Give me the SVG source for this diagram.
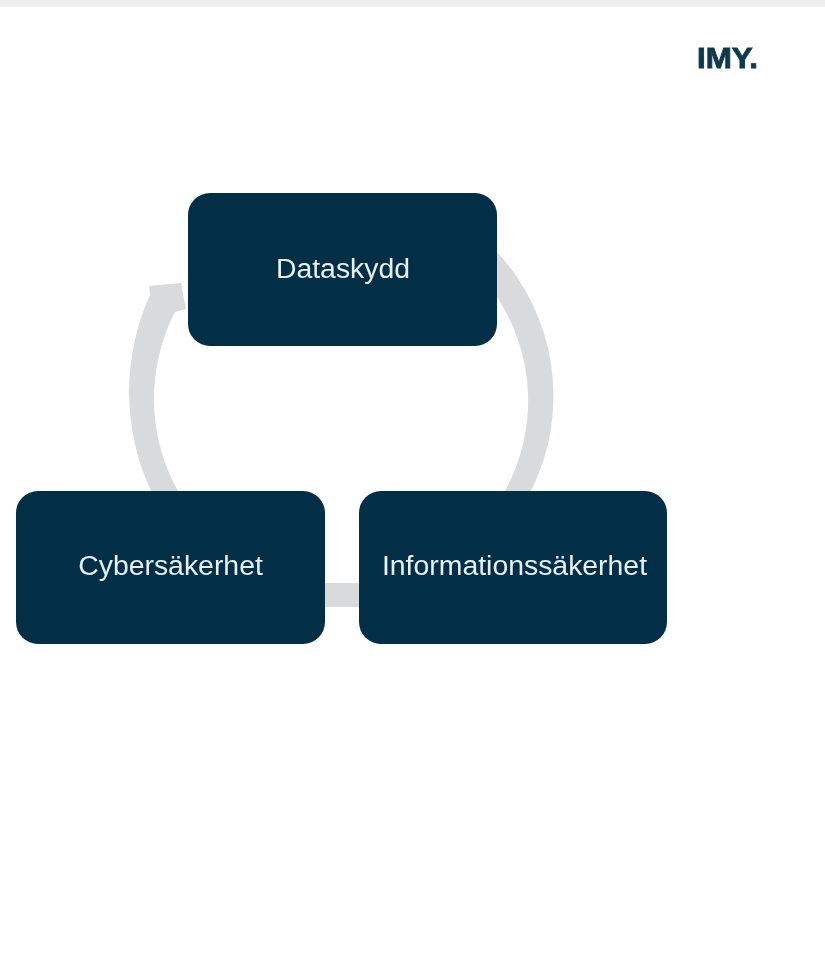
<svg xmlns="http://www.w3.org/2000/svg" width="825" height="955" viewBox="0 0 825 955">
<style>
.box{fill:#022f46}
.lbl{font-family:"Liberation Sans",Arial,sans-serif;font-size:28.4px;fill:#e6eff2;text-anchor:middle;filter:url(#soft)}
.conn{fill:#d9dadc}
</style>
<defs><filter id="soft" x="-10%" y="-20%" width="120%" height="140%"><feGaussianBlur stdDeviation="0.55"/></filter></defs>
<rect width="825" height="955" fill="#fff"/>
<rect id="topbar" width="825" height="7" fill="#efefef"/>
<text id="logo" x="697" y="68" font-family="'Liberation Sans',Arial,sans-serif" font-weight="bold" font-size="30" fill="#0f3a4c" stroke="#0f3a4c" stroke-width="0.9" textLength="61" lengthAdjust="spacingAndGlyphs" filter="url(#soft)">IMY.</text>
<g id="connectors" filter="url(#soft)">
<path class="conn" d="M497 252A212 212 0 0 1 531 491H505A188 188 0 0 0 497 297Z"/>
<rect class="conn" x="320" y="583" width="44" height="24"/>
<path class="conn" d="M151 491A235 235 0 0 1 150 295L149 286L181 283L186 309L175 312A189 189 0 0 0 178 491Z"/>
</g>
<g id="node-dataskydd"><rect class="box" x="188" y="193" width="309" height="153" rx="22"/><text class="lbl" x="343" y="278">Dataskydd</text></g>
<g id="node-cybersakerhet"><rect class="box" x="16" y="491" width="309" height="153" rx="22"/><text class="lbl" x="170.500" y="575">Cybersäkerhet</text></g>
<g id="node-informationssakerhet"><rect class="box" x="359" y="491" width="308" height="153" rx="22"/><text class="lbl" x="514.500" y="575">Informationssäkerhet</text></g>
</svg>
